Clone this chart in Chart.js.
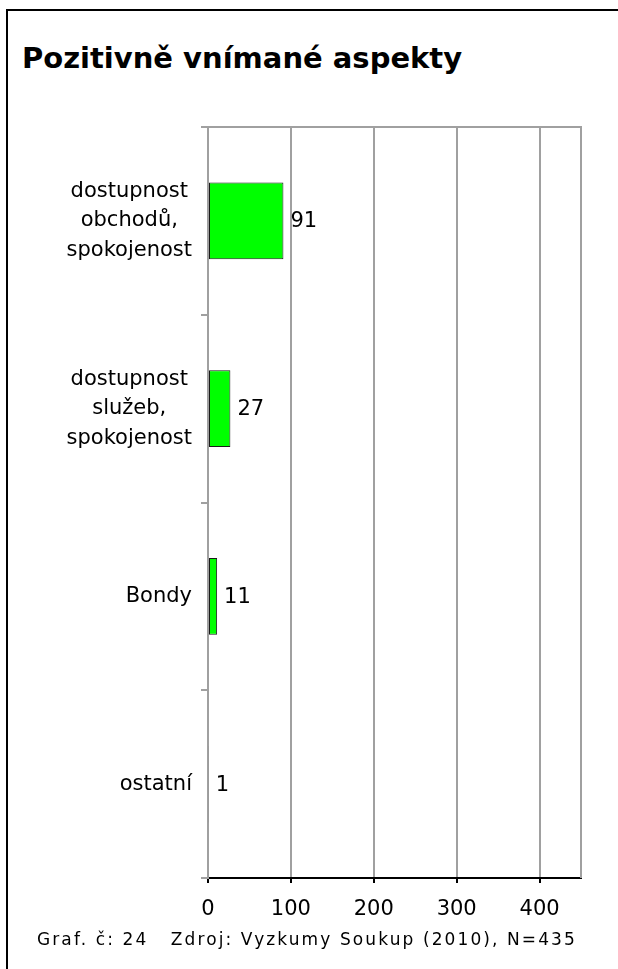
<!DOCTYPE html>
<html>
<head>
<meta charset="utf-8">
<script src="https://cdn.jsdelivr.net/npm/chart.js@4/dist/chart.umd.min.js"></script>
<style>
  html, body { margin: 0; padding: 0; background: #fff; }
  body { width: 618px; height: 969px; position: relative; overflow: hidden; font-family: "DejaVu Sans", Verdana, sans-serif; }
  .frame { position: absolute; left: 6px; top: 9px; width: 700px; height: 1100px; border-left: 2px solid #000; border-top: 2px solid #000; }
  .title { position: absolute; left: 22px; top: 44px; font-size: 29px; font-weight: bold; line-height: 29px; color: #000; white-space: nowrap; }
  .source { position: absolute; left: 37px; top: 931px; font-size: 17px; line-height: 17px; letter-spacing: 2.1px; color: #000; white-space: pre; }
  #chart { position: absolute; left: 0; top: 0; }
</style>
</head>
<body>
<div class="frame"></div>
<div class="title">Pozitivně vnímané aspekty</div>
<canvas id="chart" width="618" height="969"></canvas>
<div class="source">Graf. č: 24   Zdroj: Vyzkumy Soukup (2010), N=435</div>
<script>
const categories = [
  ["dostupnost", "obchodů,", "spokojenost"],
  ["dostupnost", "služeb,", "spokojenost"],
  "Bondy",
  "ostatní",
];
const counts = [91, 27, 11, 1];
const xTickValues = [0, 100, 200, 300, 400];
const xMax = 450;

const FONT = "DejaVu Sans";
const FONT_SIZE = 21;
const LINE_H = 29.5;
const GRID = "#a0a0a0";

// value text next to each bar
const valueLabels = {
  id: "valueLabels",
  afterDatasetsDraw(chart) {
    const ctx = chart.ctx;
    const meta = chart.getDatasetMeta(0);
    ctx.save();
    ctx.font = `${FONT_SIZE}px "${FONT}"`;
    ctx.fillStyle = "#000";
    ctx.textAlign = "left";
    ctx.textBaseline = "middle";
    meta.data.forEach((bar, i) => {
      ctx.fillText(String(counts[i]), bar.x + 7, bar.y + 1);
    });
    ctx.restore();
  },
};

// category labels: lines centred inside a right-aligned block
const categoryLabels = {
  id: "categoryLabels",
  afterDraw(chart) {
    const ctx = chart.ctx;
    const yScale = chart.scales.y;
    const right = yScale.right - 16;
    ctx.save();
    ctx.font = `${FONT_SIZE}px "${FONT}"`;
    ctx.fillStyle = "#000";
    ctx.textAlign = "center";
    ctx.textBaseline = "middle";
    categories.forEach((label, i) => {
      const lines = Array.isArray(label) ? label : [label];
      const w = Math.max(...lines.map((l) => ctx.measureText(l).width));
      const cx = right - w / 2;
      const y0 = yScale.getPixelForTick(i) - ((lines.length - 1) * LINE_H) / 2;
      lines.forEach((l, j) => ctx.fillText(l, cx, y0 + j * LINE_H));
    });
    ctx.restore();
  },
};

// top and right edge of the plot area
const plotFrame = {
  id: "plotFrame",
  beforeDatasetsDraw(chart) {
    const { ctx, chartArea: a } = chart;
    ctx.save();
    ctx.strokeStyle = GRID;
    ctx.lineWidth = 2;
    ctx.beginPath();
    ctx.moveTo(a.left, a.top);
    ctx.lineTo(a.right, a.top);
    ctx.lineTo(a.right, a.bottom);
    ctx.stroke();
    ctx.restore();
  },
};

new Chart(document.getElementById("chart").getContext("2d"), {
  type: "bar",
  data: {
    labels: categories,
    datasets: [
      {
        data: counts,
        backgroundColor: "#00ff00",
        borderColor: "#1a1a1a",
        borderWidth: 1,
        borderSkipped: false,
        categoryPercentage: 1,
        barPercentage: 0.41,
      },
    ],
  },
  options: {
    indexAxis: "y",
    responsive: false,
    animation: false,
    layout: { padding: { top: 127, right: 37, left: 0, bottom: 0 } },
    scales: {
      x: {
        min: 0,
        max: xMax,
        afterBuildTicks: (scale) => {
          scale.ticks = xTickValues.map((v) => ({ value: v }));
        },
        afterFit: (scale) => { scale.height = 91; },
        grid: { color: GRID, lineWidth: 2, tickColor: "#000", tickLength: 5 },
        border: { color: "#000", width: 2 },
        ticks: { color: "#000", padding: 14, font: { family: FONT, size: FONT_SIZE } },
      },
      y: {
        afterFit: (scale) => { scale.width = 208; },
        grid: { drawOnChartArea: false, color: GRID, lineWidth: 2, tickLength: 7 },
        border: { color: GRID, width: 2 },
        ticks: { color: "rgba(0,0,0,0)", padding: 8, font: { family: FONT, size: FONT_SIZE } },
      },
    },
    plugins: {
      legend: { display: false },
      tooltip: { enabled: false },
    },
  },
  plugins: [valueLabels, categoryLabels, plotFrame],
});
</script>
</body>
</html>
